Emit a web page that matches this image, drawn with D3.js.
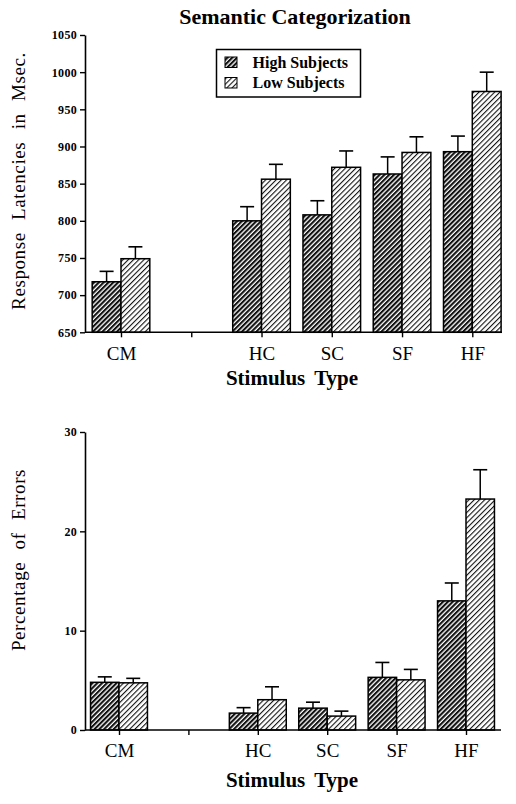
<!DOCTYPE html>
<html>
<head>
<meta charset="utf-8">
<script src="https://cdn.jsdelivr.net/npm/d3@7"></script>
<style>
  html, body { margin: 0; padding: 0; background: #fff; }
  svg { display: block; }
  text { font-family: "Liberation Serif", "Times New Roman", serif; fill: #000; }
</style>
</head>
<body>
<svg id="chart" width="516" height="804"></svg>
<script>
// ---- data ----
const slots = ["CM", "", "HC", "SC", "SF", "HF"];      // "" = empty gap slot
const categories = ["CM", "HC", "SC", "SF", "HF"];
const series = ["High Subjects", "Low Subjects"];

const latencyHigh    = [718, 800, 808, 863, 893];
const latencyHighErr = [14, 19, 19, 23, 21];
const latencyLow     = [749, 856, 872, 892, 974];
const latencyLowErr  = [16, 20, 22, 21, 26];
const latencyTicks   = [650, 700, 750, 800, 850, 900, 950, 1000, 1050];

const errorsHigh    = [4.8, 1.7, 2.2, 5.3, 13.0];
const errorsHighErr = [0.55, 0.55, 0.6, 1.5, 1.8];
const errorsLow     = [4.75, 3.05, 1.4, 5.05, 23.25];
const errorsLowErr  = [0.45, 1.3, 0.5, 1.05, 2.95];
const errorsTicks   = [0, 10, 20, 30];

const SERIF = "'Liberation Serif', 'Times New Roman', serif";
const svg = d3.select("#chart");

// ---- hatch patterns ----
const defs = svg.append("defs");
function hatch(id, size, lw) {
  const p = defs.append("pattern")
    .attr("id", id).attr("patternUnits", "userSpaceOnUse")
    .attr("width", size).attr("height", size)
    .attr("patternTransform", "rotate(45)");
  p.append("rect").attr("width", size).attr("height", size).attr("fill", "#fff");
  p.append("rect").attr("x", 0).attr("y", 0).attr("width", lw).attr("height", size).attr("fill", "#111");
}
hatch("hatchDark", 3.4, 2.1);
hatch("hatchLight", 3.7, 1.1);
const fills = ["url(#hatchDark)", "url(#hatchLight)"];

// ---- title ----
svg.append("text").attr("x", 295).attr("y", 24).attr("text-anchor", "middle")
  .style("font-family", SERIF)
  .style("font-size", "22px").style("font-weight", "bold").text("Semantic Categorization");

function panel(cfg) {
  const g = svg.append("g");
  const x = d3.scalePoint().domain(slots).range(cfg.xRange);
  const bw = x.step() * 0.41;
  const y = d3.scaleLinear().domain(cfg.yDomain).range(cfg.yRange);

  // y axis
  const ya = g.append("g").attr("transform", `translate(${cfg.axisX},0)`)
    .call(d3.axisLeft(y).tickValues(cfg.ticks).tickFormat(d3.format("d"))
      .tickSize(5).tickSizeOuter(0).tickPadding(3));
  ya.select(".domain").attr("stroke", "#000").attr("stroke-width", 1.6);
  ya.selectAll(".tick line").attr("stroke", "#000").attr("stroke-width", 1.4);
  ya.selectAll(".tick text").style("font-family", SERIF)
    .style("font-size", "12px").style("font-weight", "bold").style("letter-spacing", "0.3px")
    .attr("fill", "#000");

  // bars
  const vals = [cfg.high, cfg.low];
  const errs = [cfg.highErr, cfg.lowErr];
  series.forEach((s, si) => {
    categories.forEach((c, ci) => {
      const v = vals[si][ci], e = errs[si][ci];
      const cx = x(c);
      const x0 = si === 0 ? cx - bw : cx;
      const mid = x0 + bw / 2;
      // error bar
      g.append("line").attr("x1", mid).attr("x2", mid)
        .attr("y1", y(v)).attr("y2", y(v + e)).attr("stroke", "#000").attr("stroke-width", 1.5);
      g.append("line").attr("x1", mid - 7).attr("x2", mid + 7)
        .attr("y1", y(v + e)).attr("y2", y(v + e)).attr("stroke", "#000").attr("stroke-width", 1.6);
      g.append("rect").attr("x", x0).attr("y", y(v))
        .attr("width", bw).attr("height", y(cfg.yDomain[0]) - y(v))
        .attr("fill", fills[si]).attr("stroke", "#000").attr("stroke-width", 1.5);
    });
  });

  // x axis
  const xa = g.append("g").attr("transform", `translate(0,${y(cfg.yDomain[0])})`)
    .call(d3.axisBottom(x).tickSize(5).tickSizeOuter(0).tickPadding(9));
  xa.select(".domain").remove();
  xa.append("line").attr("x1", cfg.axisX).attr("x2", cfg.axisEnd).attr("y1", 0).attr("y2", 0)
    .attr("stroke", "#000").attr("stroke-width", 1.6);
  xa.selectAll(".tick line").attr("stroke", "#000").attr("stroke-width", 1.4);
  xa.selectAll(".tick text").style("font-family", SERIF)
    .style("font-size", "19px").attr("fill", "#000");

  // x title
  g.append("text").attr("x", 292).attr("y", cfg.xTitleY).attr("text-anchor", "middle")
    .style("font-family", SERIF)
    .style("font-size", "21px").style("font-weight", "bold").style("word-spacing", "4px")
    .text("Stimulus Type");

  // y title
  g.append("text")
    .attr("transform", `translate(25,${cfg.yTitleMid}) rotate(-90)`)
    .attr("text-anchor", "middle")
    .style("font-family", SERIF)
    .style("font-size", "19px").style("letter-spacing", "0.6px").style("word-spacing", "7px")
    .text(cfg.yTitle);
  return g;
}

panel({
  xRange: [121, 472.3], axisX: 85, axisEnd: 502,
  yDomain: [650, 1050], yRange: [332.3, 35], ticks: latencyTicks,
  high: latencyHigh, highErr: latencyHighErr, low: latencyLow, lowErr: latencyLowErr,
  xTitleY: 385, yTitle: "Response Latencies in Msec.", yTitleMid: 181
});

panel({
  xRange: [119, 466], axisX: 85, axisEnd: 501,
  yDomain: [0, 30], yRange: [730, 432], ticks: errorsTicks,
  high: errorsHigh, highErr: errorsHighErr, low: errorsLow, lowErr: errorsLowErr,
  xTitleY: 787, yTitle: "Percentage of Errors", yTitleMid: 560
});

// ---- legend ----
const lg = svg.append("g");
lg.append("rect").attr("x", 216.5).attr("y", 49.5).attr("width", 144).attr("height", 47.5)
  .attr("fill", "#fff").attr("stroke", "#000").attr("stroke-width", 1.5);
series.forEach((s, i) => {
  const yy = 57 + i * 20.5;
  lg.append("rect").attr("x", 225).attr("y", yy).attr("width", 12).attr("height", 10.5)
    .attr("fill", fills[i]).attr("stroke", "#000").attr("stroke-width", 1);
  lg.append("text").attr("x", 252.5).attr("y", yy + 10.8)
    .style("font-family", SERIF)
    .style("font-size", "16px").style("font-weight", "bold").text(s);
});
</script>
</body>
</html>
